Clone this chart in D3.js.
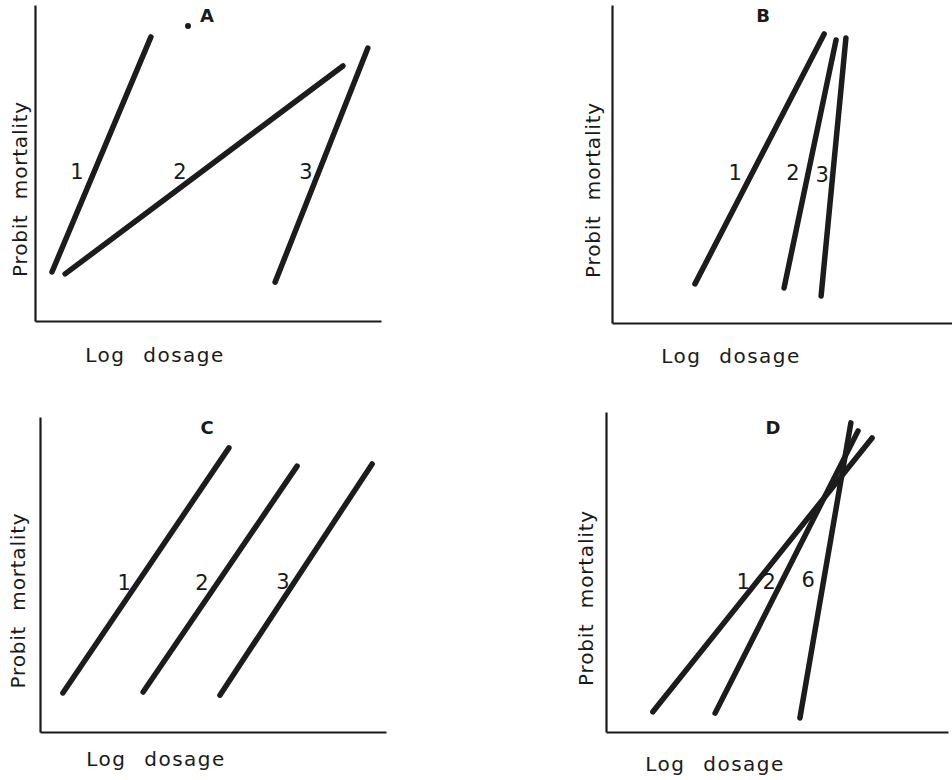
<!DOCTYPE html>
<html><head><meta charset="utf-8">
<script src="https://cdn.jsdelivr.net/npm/d3@7"></script>
<style>
html,body{margin:0;padding:0;background:#fff;}
text{font-family:"DejaVu Sans",sans-serif;fill:#1a1a1a;}
</style></head>
<body><svg id="c" width="952" height="780"></svg>
<script>
// ---- data (arbitrary units, 0-10 on both axes) ----
const panelNames = ["A", "B", "C", "D"];
const xTitle = "Log dosage";
const yTitle = "Probit mortality";

const linesA = [
  {label: "1", x: [0.49, 3.35], y: [1.55, 8.99], lx: 1.21, ly: 4.72},
  {label: "2", x: [0.87, 8.90], y: [1.49, 8.07], lx: 4.19, ly: 4.72},
  {label: "3", x: [6.94, 9.62], y: [1.23, 8.64], lx: 7.83, ly: 4.72}
];
const linesB = [
  {label: "1", x: [2.44, 6.24], y: [1.23, 9.09], lx: 3.62, ly: 4.72},
  {label: "2", x: [5.06, 6.59], y: [1.10, 8.90], lx: 5.32, ly: 4.72},
  {label: "3", x: [6.15, 6.88], y: [0.85, 8.96], lx: 6.18, ly: 4.65}
];
const linesC = [
  {label: "1", x: [0.66, 5.46], y: [1.24, 9.02], lx: 2.43, ly: 4.73},
  {label: "2", x: [2.98, 7.43], y: [1.27, 8.44], lx: 4.68, ly: 4.73},
  {label: "3", x: [5.20, 9.60], y: [1.17, 8.51], lx: 7.02, ly: 4.76}
];
const linesD = [
  {label: "1", x: [1.37, 7.78], y: [0.63, 9.19], lx: 4.01, ly: 4.69},
  {label: "2", x: [3.19, 7.37], y: [0.59, 9.41], lx: 4.77, ly: 4.69},
  {label: "6", x: [5.67, 7.16], y: [0.44, 9.66], lx: 5.91, ly: 4.75}
];
const panelData = [linesA, linesB, linesC, linesD];

// ---- layout ----
const frames = [
  {left: 35, right: 381, top: 5, bottom: 321, yTitleX: 20, xTitleY: 355, titleX: 207, titleY: 15},
  {left: 612, right: 952, top: 5, bottom: 323, yTitleX: 593, xTitleY: 356, titleX: 763, titleY: 15},
  {left: 40, right: 386, top: 417, bottom: 732, yTitleX: 18, xTitleY: 759, titleX: 207, titleY: 427},
  {left: 606, right: 948, top: 412, bottom: 732, yTitleX: 586, xTitleY: 764, titleX: 773, titleY: 427}
];
const xTitleX = [155, 731, 156, 715];

const svg = d3.select("#c");
svg.append("rect").attr("width", 952).attr("height", 780).attr("fill", "#fff");

panelNames.forEach((name, i) => {
  const f = frames[i];
  const x = d3.scaleLinear().domain([0, 10]).range([f.left, f.right]);
  const y = d3.scaleLinear().domain([0, 10]).range([f.bottom, f.top]);
  const g = svg.append("g");

  // axes (domain lines only)
  const ax = g.append("g").attr("transform", `translate(0,${f.bottom})`)
    .call(d3.axisBottom(x).tickValues([]).tickSizeOuter(0));
  const ay = g.append("g").attr("transform", `translate(${f.left},0)`)
    .call(d3.axisLeft(y).tickValues([]).tickSizeOuter(0));
  [ax, ay].forEach(a => a.select(".domain").attr("stroke", "#1a1a1a").attr("stroke-width", 2.2));

  // lines
  const line = d3.line().x(d => x(d[0])).y(d => y(d[1]));
  panelData[i].forEach(s => {
    g.append("path")
      .attr("d", line(d3.zip(s.x, s.y)))
      .attr("fill", "none").attr("stroke", "#1c1c1c")
      .attr("stroke-width", 5.5).attr("stroke-linecap", "round");
    g.append("text").attr("x", x(s.lx)).attr("y", y(s.ly))
      .attr("text-anchor", "middle").attr("dominant-baseline", "central")
      .attr("font-size", 21).text(s.label);
  });

  // panel letter
  g.append("text").attr("x", f.titleX).attr("y", f.titleY)
    .attr("text-anchor", "middle").attr("dominant-baseline", "central")
    .attr("font-size", 18).attr("font-weight", "bold").text(name);

  // axis titles
  g.append("text").attr("x", xTitleX[i]).attr("y", f.xTitleY)
    .attr("text-anchor", "middle").attr("dominant-baseline", "central")
    .attr("font-size", 20).attr("letter-spacing", 1.5).attr("word-spacing", 10)
    .text(xTitle);
  g.append("text")
    .attr("transform", `translate(${f.yTitleX},${(f.top + f.bottom) / 2 + 26}) rotate(-90)`)
    .attr("text-anchor", "middle").attr("dominant-baseline", "central")
    .attr("font-size", 20).attr("letter-spacing", 0.8).attr("word-spacing", 8)
    .text(yTitle);
});

// stray dot beside panel A letter
svg.append("circle").attr("cx", 188).attr("cy", 26).attr("r", 3).attr("fill", "#1a1a1a");
</script></body></html>
